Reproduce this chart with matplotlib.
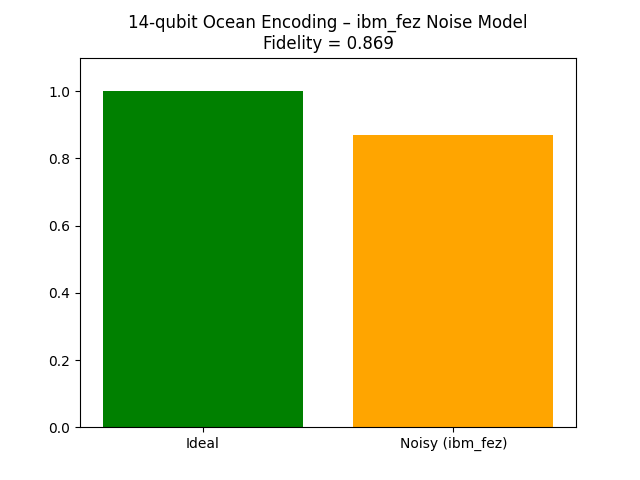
import matplotlib
matplotlib.use("Agg")
import matplotlib.pyplot as plt

labels = ["Ideal", "Noisy (ibm_fez)"]
values = [1.0, 0.869]
colors = ["green", "orange"]
fidelity = 0.869

fig, ax = plt.subplots(figsize=(6.4, 4.8), dpi=100)
ax.bar(labels, values, color=colors)
ax.set_ylim(0, 1.1)
ax.set_title(f"14-qubit Ocean Encoding – ibm_fez Noise Model\nFidelity = {fidelity:.3f}")
fig.savefig("out.png")
